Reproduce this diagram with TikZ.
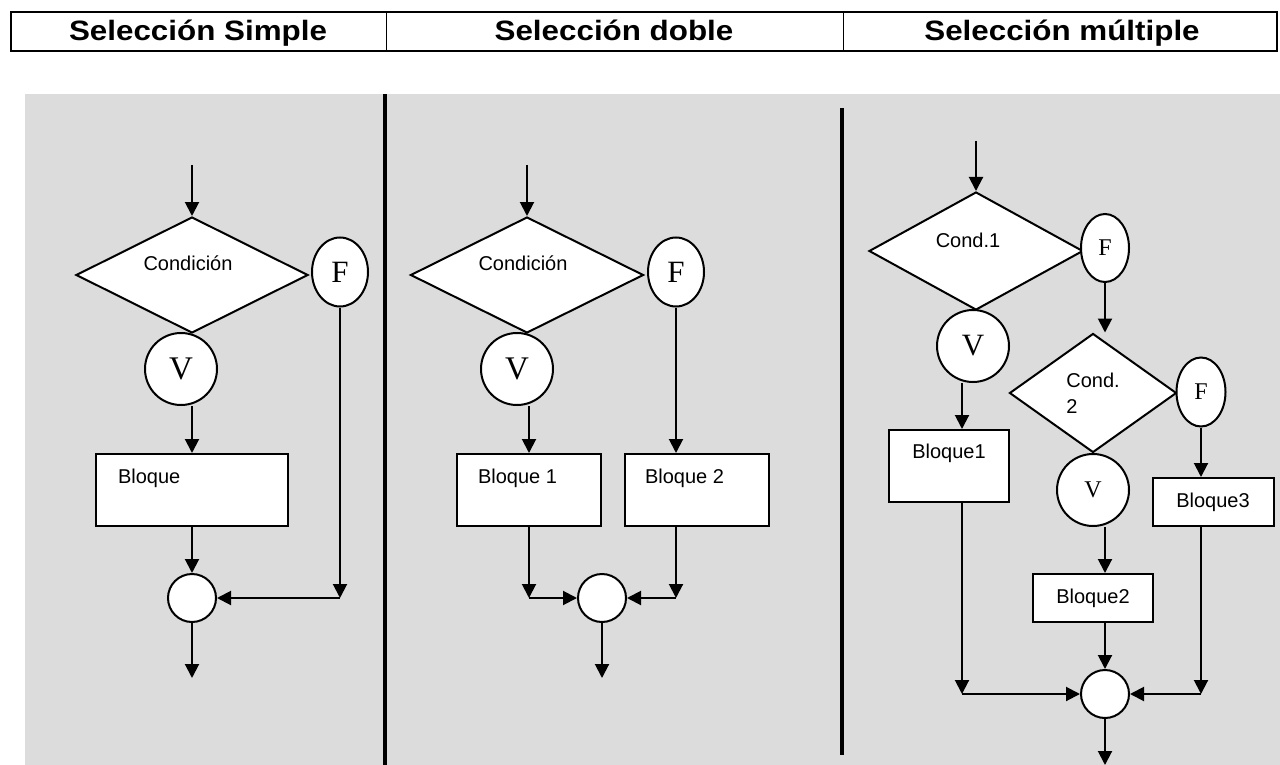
\documentclass[tikz,border=0pt]{standalone}
\usepackage{fontspec}
\setmainfont{Liberation Sans}
\newfontfamily\tnr{Liberation Serif}
\usetikzlibrary{arrows.meta,shapes.geometric,positioning}
\definecolor{panelgray}{HTML}{DCDCDC}
\newcommand{\headtext}[1]{\scalebox{1.12}[1]{#1}}

\begin{document}
\begin{tikzpicture}[
    x=1pt, y=-1pt,
    line width=2pt,
    dec/.style={diamond, draw, fill=white, inner sep=0pt, font=\fontsize{20}{26}\selectfont},
    tf/.style={ellipse, draw, fill=white, inner sep=0pt, minimum width=56pt, minimum height=69pt, font=\tnr\fontsize{31}{31}\selectfont},
    vt/.style={circle, draw, fill=white, inner sep=0pt, minimum size=72pt, font=\tnr\fontsize{33}{33}\selectfont},
    small/.style={font=\tnr\fontsize{24}{24}\selectfont},
    blk/.style={rectangle, draw, fill=white, inner sep=0pt, font=\fontsize{20}{24}\selectfont},
    junc/.style={circle, draw, fill=white, inner sep=0pt, minimum size=48pt},
    flow/.style={-{Triangle[length=14pt,width=14pt]}},
    head/.style={font=\bfseries\fontsize{28}{30}\selectfont, anchor=base},
    txt/.style={font=\fontsize{20}{24}\selectfont, inner sep=0pt}
]
\useasboundingbox (0,0) rectangle (1280,765);

% header
\draw (11,12) rectangle (1277,51);
\draw[line width=1pt] (386,12) -- (386,51);
\draw[line width=1pt] (843,12) -- (843,51);
\node[head] (h1) at (198,41) {\headtext{Selección Simple}};
\node[head] (h2) at (614,41) {\headtext{Selección doble}};
\node[head] (h3) at (1062,41) {\headtext{Selección múltiple}};

% panels
\fill[panelgray] (25,94) rectangle (1280,765);
\draw[line width=4pt] (385,94) -- (385,765);
\draw[line width=4pt] (842,108) -- (842,755);

% seleccion simple
\node[dec, minimum width=232pt, minimum height=116pt, label={[txt, xshift=-4pt, yshift=12pt]center:Condición}] (c1) at (192,275) {};
\node[tf] (f1) at (340,272) {F};
\node[vt] (v1) at (181,369) {V};
\node[blk, minimum width=192pt, minimum height=72pt, label={[txt, anchor=west, xshift=22pt, yshift=-25pt]north west:Bloque}] (b1) at (192,490) {};
\node[junc] (m1) at (192,598) {};
\coordinate (i1) at (192,165);
\coordinate (o1) at (192,678);
\coordinate (j1) at (f1.south |- m1);

\draw[flow] (i1) -- (c1.north);
\draw[flow] (v1.south -| b1.north) -- (b1.north);
\draw[flow] (b1.south) -- (m1.north);
\draw[flow] (f1.south) -- (j1);
\draw[flow] (j1) -- (m1.east);
\draw[flow] (m1.south) -- (o1);

% seleccion doble
\node[dec, minimum width=233pt, minimum height=116pt, label={[txt, xshift=-4pt, yshift=12pt]center:Condición}] (c2) at (527,275) {};
\node[tf] (f2) at (676,272) {F};
\node[vt] (v2) at (517,369) {V};
\node[blk, minimum width=144pt, minimum height=72pt, label={[txt, anchor=west, xshift=21pt, yshift=-25pt]north west:Bloque 1}] (b21) at (529,490) {};
\node[blk, minimum width=144pt, minimum height=72pt, label={[txt, anchor=west, xshift=20pt, yshift=-25pt]north west:Bloque 2}] (b22) at (697,490) {};
\node[junc] (m2) at (602,598) {};
\coordinate (i2) at (527,165);
\coordinate (o2) at (602,678);
\coordinate (j21) at (b21.south |- m2);
\coordinate (j22) at (f2.south |- m2);

\draw[flow] (i2) -- (c2.north);
\draw[flow] (v2.south -| b21.north) -- (b21.north);
\draw[flow] (f2.south) -- (f2.south |- b22.north);
\draw[flow] (b21.south) -- (j21);
\draw[flow] (j21) -- (m2.west);
\draw[flow] (b22.south -| j22) -- (j22);
\draw[flow] (j22) -- (m2.east);
\draw[flow] (m2.south) -- (o2);

% seleccion multiple
\node[dec, minimum width=214pt, minimum height=118pt, label={[txt, xshift=-8pt, yshift=11pt]center:Cond.1}] (d31) at (976,251) {};
\node[tf, minimum width=48pt, minimum height=68pt, small] (f31) at (1105,248) {F};
\node[vt, font=\tnr\fontsize{31}{31}\selectfont] (v31) at (973,346) {V};
\node[blk, minimum width=120pt, minimum height=72pt, label={[txt, yshift=13pt]center:Bloque1}] (b31) at (949,466) {};
\node[dec, minimum width=167pt, minimum height=119pt, align=left] (d32) at (1093,393) {Cond.\\2};
\node[tf, minimum width=49pt, minimum height=69pt, small] (f32) at (1201,392) {F};
\node[vt, small] (v32) at (1093,490) {V};
\node[blk, minimum width=120pt, minimum height=48pt] (b32) at (1093,598) {Bloque2};
\node[blk, minimum width=121pt, minimum height=48pt] (b33) at (1213,502) {Bloque3};
\node[junc] (m3) at (1105,694) {};
\coordinate (i3) at (976,141);
\coordinate (o3) at (1105,765);
\coordinate (k31) at ([xshift=-11pt]v31.south);
\coordinate (j31) at (k31 |- m3);
\coordinate (j33) at (f32.south |- m3);

\draw[flow] (i3) -- (d31.north);
\draw[flow] (k31) -- (k31 |- b31.north);
\draw[flow] (f31.south) -- (f31.south |- d32.north);
\draw[flow] (f32.south) -- (f32.south |- b33.north);
\draw[flow] (v32.south -| m3) -- (b32.north -| m3);
\draw[flow] (b32.south -| m3) -- (m3.north);
\draw[flow] (b31.south -| j31) -- (j31);
\draw[flow] (j31) -- (m3.west);
\draw[flow] (b33.south -| j33) -- (j33);
\draw[flow] (j33) -- (m3.east);
\draw[flow] (m3.south) -- (o3);
\end{tikzpicture}
\end{document}
